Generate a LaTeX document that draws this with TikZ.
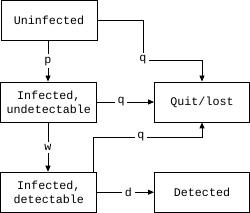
\documentclass[tikz,border=0pt]{standalone}
\usepackage{fontspec}
\setmonofont{Liberation Mono}
\usetikzlibrary{arrows.meta}
\begin{document}
\begin{tikzpicture}[x=1pt,y=-1pt,
  box/.style={draw,line width=0.9pt,minimum width=96pt,minimum height=40pt,inner sep=0pt,align=center,font=\ttfamily\fontsize{11.7}{14}\selectfont},
  conn/.style={line width=0.9pt,-{Triangle[length=6pt,width=5pt]}},
  lbl/.style={fill=white,inner sep=2.5pt,font=\ttfamily\fontsize{11.7}{14}\selectfont}]
\useasboundingbox (0,0) rectangle (250,213);
\node[box] (U) at (49,20.5) {Uninfected};
\node[box] (IU) at (48.8,102) {Infected,\\undetectable};
\node[box] (ID) at (48.8,192.2) {Infected,\\detectable};
\node[box,minimum width=95pt] (Q) at (202,102) {Quit/lost};
\node[box,minimum width=95pt] (D) at (202,192.2) {Detected};
\coordinate (k1) at (143,60);
\coordinate (k2) at (93,137);
\draw[conn] (U.south -| 48,0) -- node[lbl]{p} (IU.north -| 48,0);
\draw[conn] (IU.south -| 48,0) -- node[lbl]{w} (ID.north -| 48,0);
\draw[conn] (IU.east) -- node[lbl,pos=0.42]{q} (Q.west);
\draw[conn] (ID.east) -- node[lbl,pos=0.55]{d} (D.west);
\draw[conn] (U.east) -| (k1) -| (Q.north);
\node[lbl] at (k1) {q};
\draw[conn] (ID.north -| k2) -- (k2) -| node[lbl,pos=0.22]{q} (Q.south);
\end{tikzpicture}
\end{document}
